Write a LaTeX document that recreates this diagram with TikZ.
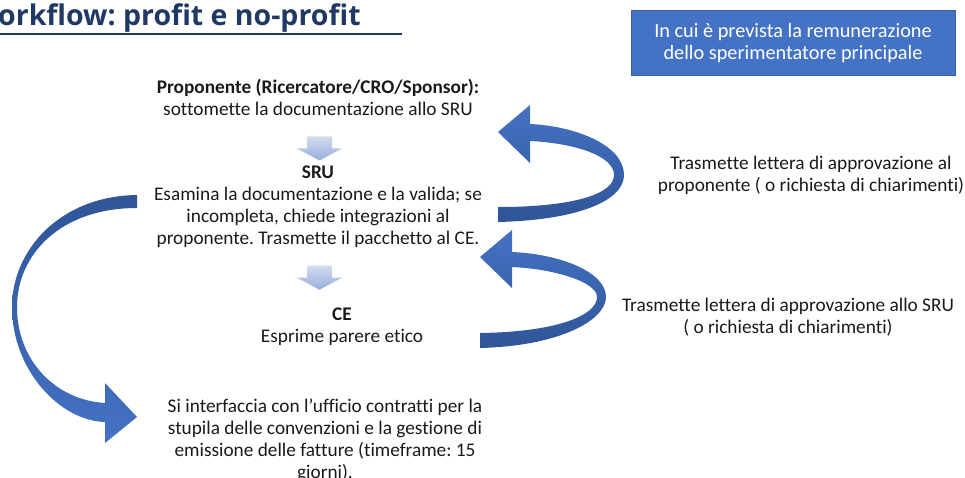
\documentclass[tikz,border=0pt]{standalone}
\usepackage{fontspec}
\setmainfont{Carlito}[Ligatures=NoCommon]
\newfontfamily\titlefont{Open Sans}[Ligatures=NoCommon]
\usetikzlibrary{calc}
\frenchspacing

\definecolor{titleblue}{HTML}{1F3864}
\definecolor{boxblue}{HTML}{4472C4}
\definecolor{ribbonlight}{HTML}{4472C4}
\definecolor{ribbondark}{HTML}{2F5597}
\definecolor{arrowtop}{HTML}{D2DCF0}
\definecolor{arrowbot}{HTML}{97AEDB}
\definecolor{textgray}{HTML}{1A1A1A}

\begin{document}
\begin{tikzpicture}[x=1pt, y=-1pt,
    txt/.style={font=\fontsize{19.3}{22.1}\selectfont, text=textgray, align=center, inner sep=0pt, anchor=north},
    infobox/.style={fill=boxblue, draw=boxblue!85!black, text=white, align=center,
        minimum width=324pt, minimum height=65pt, font=\fontsize{20.3}{21.5}\selectfont},
    ribbon/.style={top color=ribbonlight, bottom color=ribbondark, draw=none},
    pics/downarrow/.style={code={
        \shade[top color=arrowtop, bottom color=arrowbot]
          (-12.5,-12) -- (12.5,-12) -- (12.5,0) -- (22.5,0) -- (0,12)
          -- (-22.5,0) -- (-12.5,0) -- cycle;}}]
  \useasboundingbox (0,0) rectangle (965,477);
  \clip (0,0) rectangle (965,477);

  % title
  \node[anchor=base west, inner sep=0pt, text=titleblue,
        font=\titlefont\fontsize{28.5}{32}\selectfont\bfseries] (title) at (-2,25) {orkflow: profit e no-profit};
  \coordinate (ulend) at (402,34);
  \draw[titleblue, line width=2.5pt] (0,34) -- (ulend);

  \node[infobox] (remun) at (793,43) {In cui è prevista la remunerazione\\dello sperimentatore principale};

  % steps
  \node[txt] (prop) at (318,78.5) {\textbf{Proponente (Ricercatore/CRO/Sponsor):}\\sottomette la documentazione allo SRU};
  \node[txt] (sru) at (318,165.5) {\textbf{SRU}\\Esamina la documentazione e la valida; se\\incompleta, chiede integrazioni al\\proponente. Trasmette il pacchetto al CE.};
  \node[txt] (ce) at (342,307.5) {\textbf{CE}\\Esprime parere etico};
  \node[txt] (contr) at (325,398.5) {Si interfaccia con l’ufficio contratti per la\\stupila delle convenzioni e la gestione di\\emissione delle fatture (timeframe: 15\\giorni).};

  \node[txt] (back1) at (811,155.5) {Trasmette lettera di approvazione al\\proponente ( o richiesta di chiarimenti)};
  \node[txt] (back2) at (788,297.5) {Trasmette lettera di approvazione allo SRU\\( o richiesta di chiarimenti)};

  % block arrows down
  \path (prop.south) -- (prop.south |- sru.north) coordinate[pos=.66] (a1);
  \path (sru.south) -- (sru.south |- ce.north) coordinate[midway] (a2);
  \pic at ($(a1)+(1.5,0)$) {downarrow};
  \pic at ($(a2)+(1.5,0)$) {downarrow};

  % curved arrows
  \shade[ribbon] (498,222) .. controls (580,220) and (624,200) .. (624,175)
    .. controls (624,145) and (575,126) .. (530,124) -- (530,105) -- (498,132)
    -- (530,163) -- (530,141) .. controls (572,143) and (614,155) .. (614,175)
    .. controls (614,195) and (570,207) .. (498,207) -- cycle;
  \shade[ribbon] (480,348) .. controls (560,346) and (606,320) .. (606,297)
    .. controls (606,272) and (560,254) .. (512,252) -- (512,230) -- (480,257)
    -- (512,288) -- (512,267) .. controls (555,269) and (597,282) .. (597,297)
    .. controls (597,316) and (555,332) .. (480,333) -- cycle;
  \shade[top color=ribbondark, bottom color=ribbonlight] (137,195)
    .. controls (60,196) and (12,250) .. (12,307)
    .. controls (12,370) and (60,421) .. (105,422) -- (105,443) -- (137,417)
    -- (105,383) -- (105,403) .. controls (55,400) and (17,360) .. (17,307)
    .. controls (17,255) and (60,208) .. (137,208) -- cycle;
\end{tikzpicture}
\end{document}
